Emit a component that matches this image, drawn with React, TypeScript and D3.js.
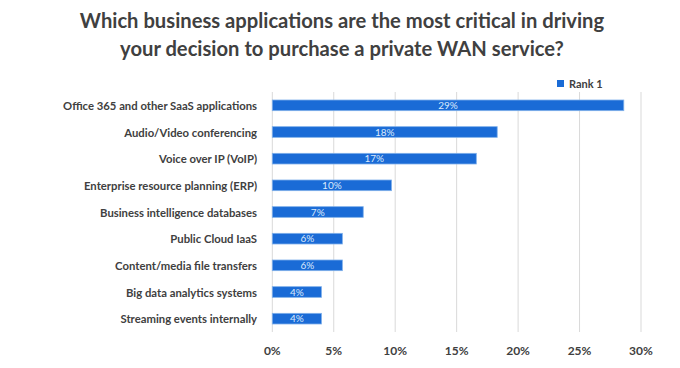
// @ts-nocheck
import React, { useEffect, useRef } from 'react';
import * as d3 from 'd3';

const categories = [
  'Office 365 and other SaaS applications',
  'Audio/Video conferencing',
  'Voice over IP (VoIP)',
  'Enterprise resource planning (ERP)',
  'Business intelligence databases',
  'Public Cloud IaaS',
  'Content/media file transfers',
  'Big data analytics systems',
  'Streaming events internally',
];
const rank1 = [28.6, 18.3, 16.6, 9.7, 7.4, 5.7, 5.7, 4.0, 4.0];
const rank1Labels = ['29%', '18%', '17%', '10%', '7%', '6%', '6%', '4%', '4%'];
const xTicks = [0, 5, 10, 15, 20, 25, 30];
const titleLines = [
  'Which business applications are the most critical in driving',
  'your decision to purchase a private WAN service?',
];

const App = () => {
  const ref = useRef<SVGSVGElement | null>(null);

  useEffect(() => {
    const W = 680;
    const H = 368;
    const font = 'Lato, "Open Sans", sans-serif';
    const svg = d3.select(ref.current);
    svg.selectAll('*').remove();

    svg.append('rect').attr('width', W).attr('height', H).attr('fill', '#fff');

    // titulo
    svg.selectAll('text.title')
      .data(titleLines)
      .enter()
      .append('text')
      .attr('class', 'title')
      .attr('x', 342)
      .attr('y', (d, i) => 28 + i * 28)
      .attr('text-anchor', 'middle')
      .attr('font-family', font)
      .attr('font-weight', 700)
      .attr('font-size', 20.2)
      .attr('fill', '#404040')
      .text((d) => d);

    const x = d3.scaleLinear().domain([0, 30]).range([272.3, 641]);
    const y = d3.scaleBand().domain(categories).range([92, 332]).paddingInner(0.6).paddingOuter(0.3);

    // lineas de la cuadricula
    svg.append('g')
      .selectAll('line')
      .data(xTicks)
      .enter()
      .append('line')
      .attr('x1', (d) => x(d))
      .attr('x2', (d) => x(d))
      .attr('y1', 92)
      .attr('y2', 332)
      .attr('stroke', '#d9d9d9')
      .attr('stroke-width', 1);

    // barras
    svg.append('g')
      .selectAll('rect')
      .data(rank1)
      .enter()
      .append('rect')
      .attr('x', x(0))
      .attr('y', (d, i) => y(categories[i]))
      .attr('width', (d) => x(d) - x(0))
      .attr('height', y.bandwidth())
      .attr('fill', '#1a6bd6')
      .attr('stroke', '#7fb0ea')
      .attr('stroke-width', 0.8);

    // etiquetas de valores
    svg.append('g')
      .selectAll('text')
      .data(rank1)
      .enter()
      .append('text')
      .attr('x', (d) => (x(0) + x(d)) / 2)
      .attr('y', (d, i) => y(categories[i]) + y.bandwidth() / 2 + 3.5)
      .attr('text-anchor', 'middle')
      .attr('font-family', font)
      .attr('font-size', 10)
      .attr('fill', '#dbe9fb')
      .text((d, i) => rank1Labels[i]);

    // eje Y
    svg.append('g')
      .selectAll('text')
      .data(categories)
      .enter()
      .append('text')
      .attr('x', 257)
      .attr('y', (d) => y(d) + y.bandwidth() / 2 + 4.5)
      .attr('text-anchor', 'end')
      .attr('font-family', font)
      .attr('font-weight', 700)
      .attr('font-size', 11.3)
      .attr('fill', '#404040')
      .text((d) => d);

    // eje X
    svg.append('g')
      .selectAll('text')
      .data(xTicks)
      .enter()
      .append('text')
      .attr('x', (d) => x(d))
      .attr('y', 355)
      .attr('text-anchor', 'middle')
      .attr('font-family', font)
      .attr('font-weight', 700)
      .attr('font-size', 12)
      .attr('fill', '#404040')
      .text((d) => d + '%');

    // leyenda
    const leg = svg.append('g');
    leg.append('rect').attr('x', 557).attr('y', 80).attr('width', 7).attr('height', 7).attr('fill', '#1a6bd6');
    leg.append('text')
      .attr('x', 569)
      .attr('y', 88)
      .attr('font-family', font)
      .attr('font-weight', 700)
      .attr('font-size', 11)
      .attr('fill', '#404040')
      .text('Rank 1');
  }, []);

  return (
    <svg
      ref={ref}
      width={680}
      height={368}
      style={{ position: 'absolute', left: 0, top: 0, display: 'block' }}
    ></svg>
  );
};

export default App;
